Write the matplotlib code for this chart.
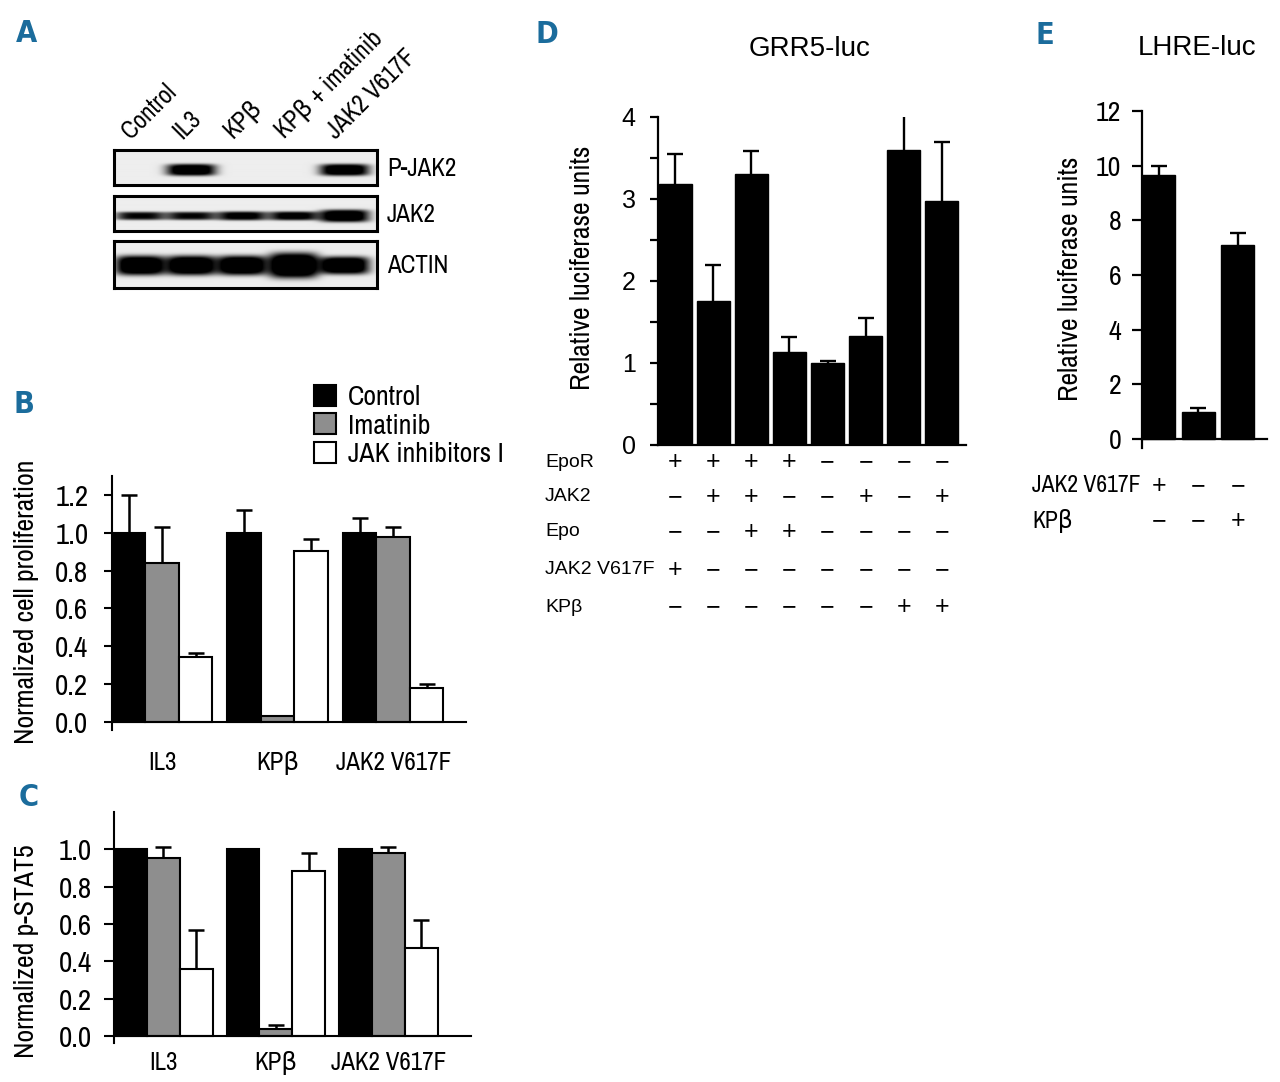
"""Multi-panel figure: JAK2 blot, proliferation, p-STAT5 and luciferase reporter bars."""
import matplotlib
matplotlib.use("Agg")
import matplotlib.pyplot as plt
import matplotlib.transforms as mtransforms
import numpy as np

# ---- data -------------------------------------------------------------
# A: western blot, relative band signal per lane
lanes = ["Control", "IL3", "KPβ", "KPβ + imatinib", "JAK2 V617F"]
blot_names = ["P-JAK2", "JAK2", "ACTIN"]
pjak2_signal = [0.0, 1.3, 0.0, 0.0, 1.3]
jak2_signal = [1.0, 1.0, 1.1, 1.1, 1.3]
actin_signal = [1.4, 1.4, 1.4, 1.5, 1.4]

# B / C: three treatments per cell line
groups = ["IL3", "KPβ", "JAK2 V617F"]
treatments = ["Control", "Imatinib", "JAK inhibitors I"]
prolif_control = [1.0, 1.0, 1.0]
prolif_control_err = [0.20, 0.12, 0.08]
prolif_imatinib = [0.84, 0.03, 0.98]
prolif_imatinib_err = [0.19, 0.0, 0.05]
prolif_jaki = [0.345, 0.905, 0.18]
prolif_jaki_err = [0.02, 0.06, 0.02]

pstat5_control = [1.0, 1.0, 1.0]
pstat5_control_err = [0.0, 0.0, 0.0]
pstat5_imatinib = [0.955, 0.035, 0.98]
pstat5_imatinib_err = [0.055, 0.025, 0.03]
pstat5_jaki = [0.36, 0.885, 0.47]
pstat5_jaki_err = [0.21, 0.095, 0.15]

# D: GRR5-luc
grr5_vals = [3.18, 1.75, 3.30, 1.13, 1.00, 1.33, 3.60, 2.98]
grr5_err = [0.37, 0.44, 0.28, 0.19, 0.02, 0.22, 0.67, 0.72]
d_rows = ["EpoR", "JAK2", "Epo", "JAK2 V617F", "KPβ"]
d_epor = ["+", "+", "+", "+", "-", "-", "-", "-"]
d_jak2 = ["-", "+", "+", "-", "-", "+", "-", "+"]
d_epo = ["-", "-", "+", "+", "-", "-", "-", "-"]
d_v617f = ["+", "-", "-", "-", "-", "-", "-", "-"]
d_kpb = ["-", "-", "-", "-", "-", "-", "+", "+"]

# E: LHRE-luc
lhre_vals = [9.67, 0.98, 7.11]
lhre_err = [0.30, 0.16, 0.43]
e_rows = ["JAK2 V617F", "KPβ"]
e_v617f = ["+", "-", "-"]
e_kpb = ["-", "-", "+"]

# ---- layout helpers ---------------------------------------------------
W, H = 1280, 1082
NARROW = ["Archivo Narrow", "DejaVu Sans"]
REG = ["Liberation Sans", "DejaVu Sans"]
BLUE = "#1b6c9c"
GRAY = "#8e8e8e"
plt.rcParams["font.family"] = NARROW

fig = plt.figure(figsize=(W / 100, H / 100), dpi=100)


def rect(x0, y0, x1, y1):
    return [x0 / W, 1 - y1 / H, (x1 - x0) / W, (y1 - y0) / H]


def ftext(x, y, s, **kw):
    return fig.text(x / W, 1 - y / H, s, **kw)


def sign(s):
    return "+" if s == "+" else "\u2212"


for letter, (x, y) in zip("ABCDE", [(16, 42), (13, 413), (19, 806), (536, 43), (1036, 44)]):
    ftext(x, y, letter, color=BLUE, fontsize=22, family="DejaVu Sans",
          fontstretch="condensed", fontweight="bold", va="baseline")

# ---- A: blot ------------------------------------------------------------
lane_x = [0.099, 0.293, 0.487, 0.684, 0.878]


def blot_image(signal, half_thick, yc, nx=263, ny=48):
    xx, yy = np.meshgrid(np.linspace(0, 1, nx), np.linspace(0, 1, ny))
    dark = np.zeros_like(xx)
    for c, s, t in zip(lane_x, signal, half_thick):
        dark += s * np.exp(-((xx - c) / 0.094) ** 4) * np.exp(-((yy - yc) / t) ** 4)
    return np.clip(0.93 - 0.93 * dark, 0, 1)


blot_boxes = [(150, 185), (196, 231), (241, 288)]
blot_specs = [
    (pjak2_signal, [0.17] * 5, 0.57),
    (jak2_signal, [0.12, 0.12, 0.13, 0.13, 0.18], 0.57),
    (actin_signal, [0.21, 0.21, 0.21, 0.27, 0.19], 0.52),
]
for name, (y0, y1), (sig, th, yc) in zip(blot_names, blot_boxes, blot_specs):
    bx = fig.add_axes(rect(114, y0, 377, y1))
    bx.imshow(blot_image(sig, th, yc), cmap="gray", vmin=0, vmax=1,
              aspect="auto", extent=[0, 1, 1, 0], interpolation="bilinear")
    bx.set_xticks([])
    bx.set_yticks([])
    for sp in bx.spines.values():
        sp.set_linewidth(2.2)
    ftext(387, (y0 + y1) / 2 + 1, name, fontsize=18, va="center", ha="left")

for lab, cx in zip(lanes, lane_x):
    px = 114 + cx * 263
    ftext(px - 6, 143, lab, fontsize=18, rotation=45, rotation_mode="anchor",
          ha="left", va="bottom")


# ---- B and C: grouped bars -------------------------------------------------
def up_errorbar(ax, xs, vals, err, lw):
    eb = ax.errorbar(xs, vals, yerr=[np.zeros(len(vals)), err], fmt="none",
                     ecolor="black", elinewidth=lw, capsize=6, capthick=lw, zorder=1)
    eb.lines[1][0].set_visible(False)  # hide the cap sitting on the bar top


def grouped(ax, series, errs, w):
    xg = np.arange(len(groups))
    colors = ["black", GRAY, "white"]
    for i, (vals, err, col, lab) in enumerate(zip(series, errs, colors, treatments)):
        xs = xg + (i - 1) * w
        ax.bar(xs, vals, width=w, color=col, edgecolor="black", linewidth=1.5,
               label=lab, zorder=2)
        vals = np.array(vals)
        err = np.array(err)
        m = err > 0
        if m.any():
            up_errorbar(ax, xs[m], vals[m], err[m], 1.8)
    ax.set_xticks(xg)
    ax.set_xticklabels(groups)
    for s in ["top", "right"]:
        ax.spines[s].set_visible(False)
    ax.spines["bottom"].set_position(("data", 0))
    for s in ["left", "bottom"]:
        ax.spines[s].set_linewidth(1.5)


w_b = 0.29
ax_b = fig.add_axes(rect(112, 476, 466, 730))
grouped(ax_b, [prolif_control, prolif_imatinib, prolif_jaki],
        [prolif_control_err, prolif_imatinib_err, prolif_jaki_err], w_b)
ax_b.set_xlim(-1.5 * w_b, -1.5 * w_b + 354 / 115.5)
ax_b.set_ylim(-0.042, 1.3)
ax_b.set_yticks(np.arange(0, 1.21, 0.2))
ax_b.set_yticklabels([f"{v:.1f}" for v in np.arange(0, 1.21, 0.2)])
ax_b.tick_params(axis="y", labelsize=21, length=6, width=1.5, pad=11)
ax_b.tick_params(axis="x", labelsize=18, length=0, pad=21)
ftext(27, 602, "Normalized cell proliferation", rotation=90, fontsize=20,
      ha="center", va="center")
ax_b.legend(loc="upper left", bbox_to_anchor=(314 / W, 1 - 385 / H),
            bbox_transform=fig.transFigure, frameon=False, fontsize=20,
            handlelength=0.78, handleheight=0.78, handletextpad=0.45,
            labelspacing=0.12, borderpad=0, borderaxespad=0)

w_c = 0.293
ax_c = fig.add_axes(rect(114, 812, 471, 1043))
grouped(ax_c, [pstat5_control, pstat5_imatinib, pstat5_jaki],
        [pstat5_control_err, pstat5_imatinib_err, pstat5_jaki_err], w_c)
ax_c.set_xlim(-1.5 * w_c, -1.5 * w_c + 357 / 112.5)
ax_c.set_ylim(-0.038, 1.2)
ax_c.set_yticks(np.arange(0, 1.01, 0.2))
ax_c.set_yticklabels([f"{v:.1f}" for v in np.arange(0, 1.01, 0.2)])
ax_c.tick_params(axis="y", labelsize=21, length=7, width=1.5, pad=9)
ax_c.tick_params(axis="x", labelsize=18, length=0, pad=11)
ftext(27, 951, "Normalized p-STAT5", rotation=90, fontsize=20, ha="center", va="center")


# ---- D and E: luciferase bars --------------------------------------------
def reporter(ax, vals, err, w):
    x = np.arange(len(vals))
    ax.bar(x, vals, width=w, color="black", edgecolor="black", linewidth=1, zorder=2)
    up_errorbar(ax, x, vals, err, 1.7)
    for s in ["top", "right"]:
        ax.spines[s].set_visible(False)
    for s in ["left", "bottom"]:
        ax.spines[s].set_linewidth(1.6)
    ax.spines["bottom"].set_position(("data", 0))
    ax.set_xticks([])
    return x


def sign_rows(ax, x, rows, y_px, label_x, fontsize, family):
    tr = mtransforms.blended_transform_factory(ax.transData, fig.transFigure)
    for signs, name, yp in zip(rows[1], rows[0], y_px):
        ftext(label_x, yp, name, fontsize=fontsize, family=family, ha="left", va="center")
        for xi, s in zip(x, signs):
            ax.text(xi, 1 - yp / H, sign(s), transform=tr, fontsize=18,
                    family=REG, ha="center", va="center")


w_d = 0.87
ax_d = fig.add_axes(rect(658, 117, 966, 445))
xd = reporter(ax_d, grr5_vals, grr5_err, w_d)
ax_d.set_xlim(-0.45, -0.45 + 308 / 38.1)
ax_d.set_ylim(0, 4)
ax_d.set_yticks([0, 1, 2, 3, 4])
ax_d.set_yticks(np.arange(0.5, 4, 1), minor=True)
ax_d.tick_params(axis="y", which="both", length=6, width=1.6, pad=10)
ax_d.tick_params(axis="y", labelsize=18)
for t in ax_d.get_yticklabels():
    t.set_family(REG)
ftext(810, 56, "GRR5-luc", family=REG, fontsize=20, ha="center", va="baseline")
ftext(583, 268, "Relative luciferase units", rotation=90, fontsize=20,
      ha="center", va="center")
sign_rows(ax_d, xd, (d_rows, [d_epor, d_jak2, d_epo, d_v617f, d_kpb]),
          [462, 497, 532, 570, 607], 545, 14, REG)

w_e = 0.835
ax_e = fig.add_axes(rect(1142, 111, 1267, 448))
xe = reporter(ax_e, lhre_vals, lhre_err, w_e)
ax_e.set_xlim(-0.43, -0.43 + 125 / 39.5)
ax_e.set_ylim(-0.33, 12)
ax_e.set_yticks(np.arange(0, 13, 2))
ax_e.tick_params(axis="y", labelsize=20, length=7, width=1.6, pad=8)
ftext(1197, 55, "LHRE-luc", family=REG, fontsize=20, ha="center", va="baseline")
ftext(1071, 279, "Relative luciferase units", rotation=90, fontsize=20,
      ha="center", va="center")
sign_rows(ax_e, xe, (e_rows, [e_v617f, e_kpb]), [486, 521], 1032, 17, NARROW)

fig.savefig("out.png", dpi=100)
